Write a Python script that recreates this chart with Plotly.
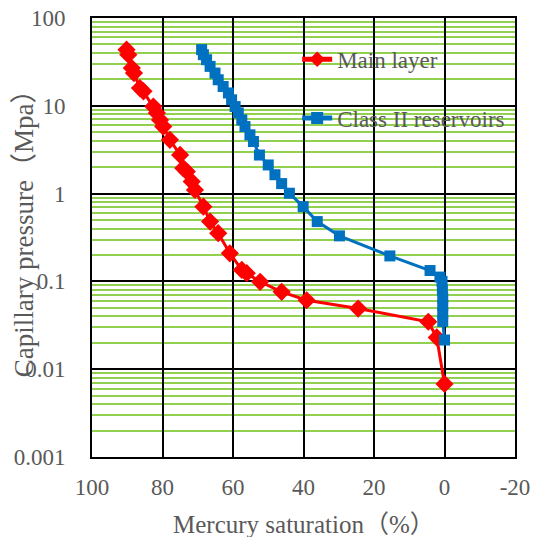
import plotly.graph_objects as go

# Main layer
main_sat = [90.2, 89.7, 88.7, 88.1, 86.4, 85.4, 82.6, 81.6, 80.7, 79.8, 77.9, 75.0, 74.1, 73.1,
            71.7, 70.8, 68.4, 66.5, 64.2, 60.9, 57.5, 56.1, 52.3, 46.2, 39.1, 24.5, 4.6, 2.2, 0.0]
main_pc = [43.6, 38.2, 26.9, 23.6, 15.9, 14.6, 9.8, 8.3, 6.9, 5.8, 4.1, 2.76, 1.95, 1.78,
           1.37, 1.10, 0.71, 0.48, 0.354, 0.209, 0.135, 0.124, 0.099, 0.076, 0.061, 0.049, 0.0347, 0.023, 0.0068]

# Class II reservoirs
c2_sat = [68.9, 68.4, 67.5, 66.5, 65.1, 64.2, 62.8, 61.3, 60.4, 59.4, 58.5, 57.5, 56.6, 55.2, 54.2,
          52.5, 50.0, 48.1, 46.2, 44.0, 40.1, 36.1, 29.8, 15.5, 4.1, 1.3, 0.7, 0.6, 0.5, 0.5, 0.5, 0.5, 0.0]
c2_pc = [43.6, 38.2, 33.5, 28.1, 23.6, 19.8, 16.6, 14.0, 11.7, 9.8, 8.3, 6.9, 5.8, 4.67, 3.92,
         2.75, 2.12, 1.64, 1.30, 1.01, 0.71, 0.48, 0.33, 0.195, 0.133, 0.112, 0.10, 0.08, 0.065, 0.053, 0.043, 0.035, 0.0215]

x_ticks = [100, 80, 60, 40, 20, 0, -20]
y_ticks = [0.001, 0.01, 0.1, 1, 10, 100]
y_ticktext = ["0.001", "0.01", "0.1", "1", "10", "100"]

FONT = "Liberation Serif, Times New Roman, Noto Sans CJK SC, serif"
GRAY = "#595959"

fig = go.Figure()
fig.add_trace(go.Scatter(x=main_sat, y=main_pc, mode="lines+markers", name="Main layer",
                         legendgroup="a",
                         line=dict(color="#FF0000", width=3),
                         marker=dict(symbol="diamond", size=14, color="#FF0000")))
fig.add_trace(go.Scatter(x=c2_sat, y=c2_pc, mode="lines+markers", name="Class II reservoirs",
                         legendgroup="b",
                         line=dict(color="#0070C0", width=3),
                         marker=dict(symbol="square", size=11, color="#0070C0")))

fig.update_layout(
    width=533, height=537,
    margin=dict(l=92, r=18, t=18, b=80),
    paper_bgcolor="white", plot_bgcolor="white",
    font=dict(family=FONT, size=23, color=GRAY),
    showlegend=True,
    legend=dict(x=0.485, y=0.955, xanchor="left", yanchor="top",
                bgcolor="rgba(0,0,0,0)", font=dict(family=FONT, size=23, color=GRAY),
                tracegroupgap=26, itemsizing="constant"),
    xaxis=dict(range=[100, -20], tickvals=x_ticks, ticktext=[str(v) for v in x_ticks],
               showgrid=True, gridcolor="black", gridwidth=2, zeroline=False,
               showline=True, linecolor="black", linewidth=2, mirror=True,
               ticks="", ticklabelstandoff=8, automargin=False, ticklabeloverflow="allow",
               tickfont=dict(family=FONT, size=23, color=GRAY)),
    yaxis=dict(type="log", range=[-3, 2], tickvals=y_ticks, ticktext=y_ticktext,
               showgrid=True, gridcolor="black", gridwidth=2, zeroline=False,
               showline=True, linecolor="black", linewidth=2, mirror=True,
               ticks="", ticklabelstandoff=20, automargin=False, ticklabeloverflow="allow",
               minor=dict(dtick="D1", showgrid=True, gridcolor="#92D050", gridwidth=2, ticks=""),
               tickfont=dict(family=FONT, size=23, color=GRAY)),
    annotations=[
        dict(text="Mercury saturation（%）", xref="paper", yref="paper", x=0.5, y=-0.153,
             xanchor="center", yanchor="middle", showarrow=False,
             font=dict(family=FONT, size=25, color=GRAY)),
        dict(text="Capillary pressure（Mpa）", xref="paper", yref="paper", x=-0.16, y=0.524,
             xanchor="center", yanchor="middle", showarrow=False, textangle=-90,
             font=dict(family=FONT, size=27, color=GRAY)),
    ],
)

fig.write_html("out.html", config={"displayModeBar": False},
               post_script="document.body.style.margin='0';document.body.style.overflow='hidden';")
